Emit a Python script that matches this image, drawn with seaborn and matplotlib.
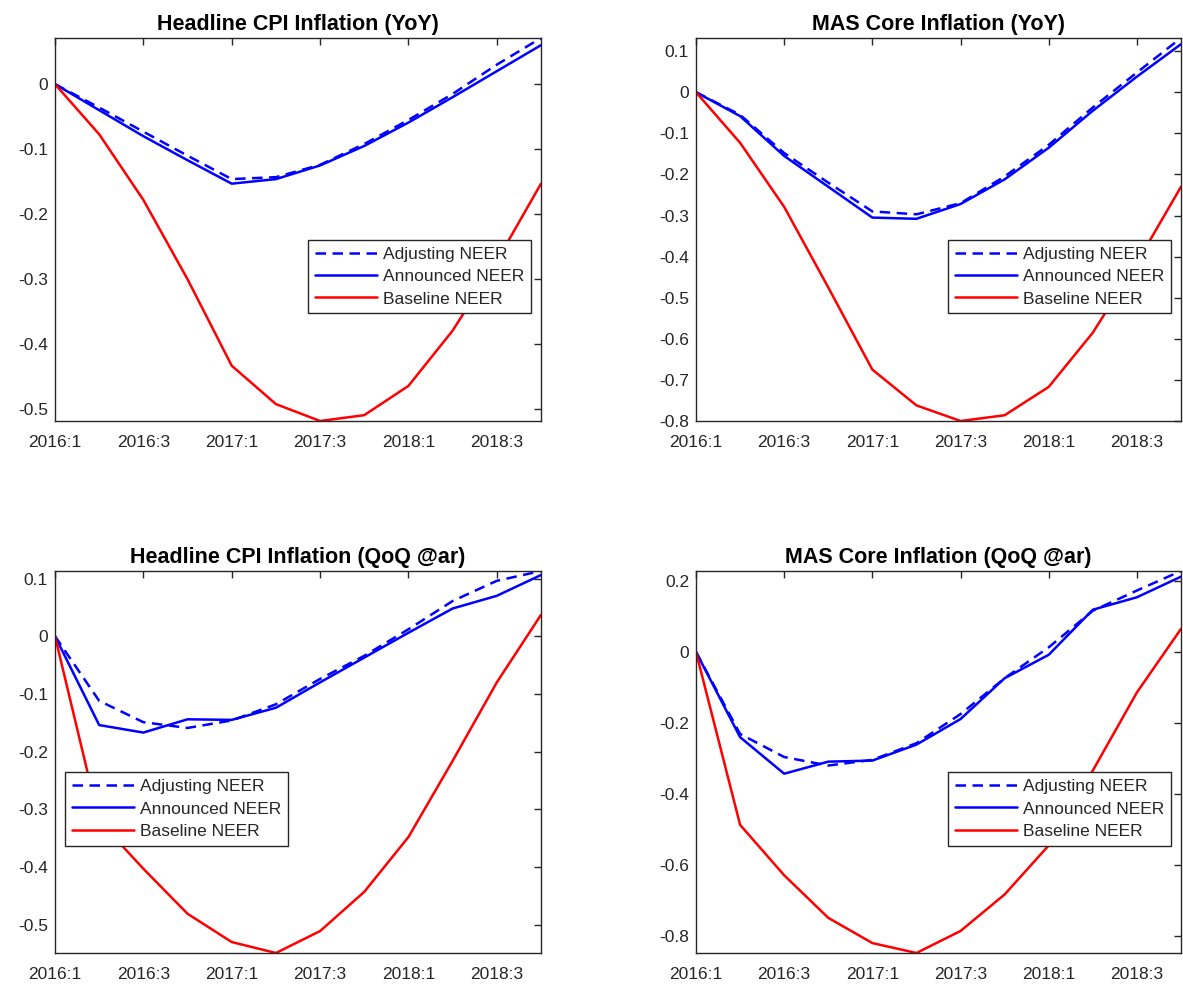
import numpy as np
import pandas as pd
import matplotlib
matplotlib.use("Agg")
import matplotlib.pyplot as plt
import seaborn as sns

# Quarters on the horizontal axis
quarters = ["2016:1", "2016:2", "2016:3", "2016:4",
            "2017:1", "2017:2", "2017:3", "2017:4",
            "2018:1", "2018:2", "2018:3", "2018:4"]
tick_quarters = ["2016:1", "2016:3", "2017:1", "2017:3", "2018:1", "2018:3"]

series_names = ["Adjusting NEER", "Announced NEER", "Baseline NEER"]

# Headline CPI inflation, year on year
headline_yoy_adjusting = [0, -0.036, -0.073, -0.110, -0.146, -0.143, -0.124, -0.092, -0.055, -0.015, 0.030, 0.071]
headline_yoy_announced = [0, -0.040, -0.080, -0.117, -0.153, -0.146, -0.125, -0.095, -0.059, -0.020, 0.020, 0.060]
headline_yoy_baseline = [0, -0.077, -0.178, -0.300, -0.433, -0.492, -0.518, -0.509, -0.464, -0.379, -0.272, -0.153]

# MAS core inflation, year on year
core_yoy_adjusting = [0, -0.055, -0.148, -0.220, -0.290, -0.297, -0.270, -0.205, -0.128, -0.037, 0.048, 0.132]
core_yoy_announced = [0, -0.058, -0.155, -0.230, -0.305, -0.308, -0.272, -0.212, -0.135, -0.045, 0.038, 0.117]
core_yoy_baseline = [0, -0.123, -0.279, -0.475, -0.675, -0.762, -0.800, -0.786, -0.717, -0.585, -0.415, -0.230]

# Headline CPI inflation, quarter on quarter annualised
headline_qoq_adjusting = [0, -0.112, -0.149, -0.159, -0.146, -0.118, -0.074, -0.034, 0.012, 0.061, 0.096, 0.113]
headline_qoq_announced = [0, -0.154, -0.167, -0.144, -0.145, -0.124, -0.080, -0.037, 0.006, 0.048, 0.070, 0.106]
headline_qoq_baseline = [0, -0.320, -0.403, -0.481, -0.530, -0.549, -0.511, -0.443, -0.348, -0.216, -0.080, 0.037]

# MAS core inflation, quarter on quarter annualised
core_qoq_adjusting = [0, -0.231, -0.296, -0.320, -0.304, -0.257, -0.175, -0.074, 0.013, 0.116, 0.173, 0.228]
core_qoq_announced = [0, -0.240, -0.343, -0.309, -0.306, -0.261, -0.189, -0.074, -0.008, 0.119, 0.154, 0.212]
core_qoq_baseline = [0, -0.487, -0.629, -0.749, -0.820, -0.848, -0.786, -0.683, -0.545, -0.334, -0.114, 0.065]

panel_titles = ["Headline CPI Inflation (YoY)", "MAS Core Inflation (YoY)",
                "Headline CPI Inflation (QoQ @ar)", "MAS Core Inflation (QoQ @ar)"]
panel_yticks = [
    [-0.5, -0.4, -0.3, -0.2, -0.1, 0],
    [-0.8, -0.7, -0.6, -0.5, -0.4, -0.3, -0.2, -0.1, 0, 0.1],
    [-0.5, -0.4, -0.3, -0.2, -0.1, 0, 0.1],
    [-0.8, -0.6, -0.4, -0.2, 0, 0.2],
]
panel_series = [
    (headline_yoy_adjusting, headline_yoy_announced, headline_yoy_baseline),
    (core_yoy_adjusting, core_yoy_announced, core_yoy_baseline),
    (headline_qoq_adjusting, headline_qoq_announced, headline_qoq_baseline),
    (core_qoq_adjusting, core_qoq_announced, core_qoq_baseline),
]

sns.set_style("white")
plt.rcParams["font.family"] = ["Liberation Sans", "DejaVu Sans"]
plt.rcParams["axes.unicode_minus"] = False

axis_grey = "#262626"
colors = ["#0000FF", "#0000FF", "#FF0000"]
W, H = 1183, 988
fig = plt.figure(figsize=(W / 100, H / 100), dpi=100)

# axes boxes in pixels: left, top, right, bottom
boxes = [(55, 38, 541, 421), (696, 38, 1181, 421),
         (55, 571, 541, 953), (696, 571, 1181, 953)]
legend_corner = [("upper right", (0.98, 0.472)), ("upper right", (0.98, 0.472)),
                 ("upper left", (0.02, 0.473)), ("upper right", (0.98, 0.473))]

x_index = np.arange(len(quarters))
for k in range(4):
    l, t, r, b = boxes[k]
    ax = fig.add_axes([l / W, 1 - b / H, (r - l) / W, (b - t) / H])
    vals = panel_series[k]
    frame = pd.DataFrame({
        "q": np.tile(x_index, 3),
        "value": np.concatenate(vals),
        "series": np.repeat(series_names, len(quarters)),
    })
    for name, col in zip(series_names, colors):
        sub = frame[frame["series"] == name]
        sns.lineplot(data=sub, x="q", y="value", ax=ax, color=col,
                     linewidth=1.8, label=name, clip_on=True)
    lines = ax.get_lines()
    lines[0].set_dashes((4.2, 2.6))
    allv = np.concatenate(vals)
    ax.set_xlim(0, len(quarters) - 1)
    ax.set_ylim(allv.min(), allv.max())
    ax.set_xticks([quarters.index(q) for q in tick_quarters])
    ax.set_xticklabels(tick_quarters)
    ax.set_yticks(panel_yticks[k])
    ax.set_yticklabels(["%g" % v for v in panel_yticks[k]])
    ax.set_xlabel("")
    ax.set_ylabel("")
    ax.tick_params(direction="in", top=True, right=True, length=5, width=1,
                   colors=axis_grey, labelsize=12.5, pad=5)
    ax.tick_params(axis="x", pad=10)
    for sp in ax.spines.values():
        sp.set_color(axis_grey)
        sp.set_linewidth(1.0)
    ax.set_title(panel_titles[k], fontsize=15.5, fontweight="bold", color="black", pad=6)
    loc, anchor = legend_corner[k]
    leg = ax.legend(loc=loc, bbox_to_anchor=anchor, fontsize=12.5, frameon=True,
                    fancybox=False, framealpha=1, edgecolor=axis_grey,
                    handlelength=3.6, handletextpad=0.35, labelspacing=0.4,
                    borderpad=0.4, borderaxespad=0)
    leg.get_frame().set_linewidth(1.0)

fig.savefig("out.png", dpi=100)
